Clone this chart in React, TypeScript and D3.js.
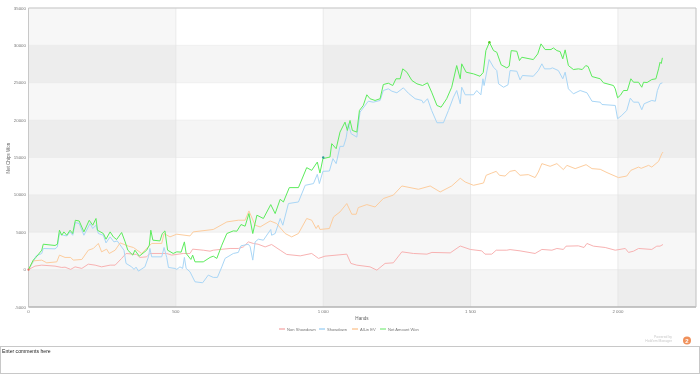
import React from "react";
import * as d3 from "d3";

type P = [number, number];

const xTicks = [0, 500, 1000, 1500, 2000];
const xTickLabels = ["0", "500", "1 000", "1 500", "2 000"];
const yTicks = [-5000, 0, 5000, 10000, 15000, 20000, 25000, 30000, 35000];
const xMax = 2265;
const title = { x: "Hands", y: "Net Chips Won" };
const comments = "Enter comments here";

const nonShowdown: P[] = [[0,0],[22,470],[45,600],[90,470],[113,290],[124,330],[143,30],[158,370],[181,160],[203,730],[226,600],[248,370],[277,600],[294,600],[316,1500],[331,2160],[367,2030],[378,1630],[401,1710],[412,2160],[469,2160],[486,1940],[525,2160],[548,2160],[557,2740],[593,2600],[616,2470],[627,2600],[650,2700],[684,2830],[712,2830],[729,3040],[746,3710],[763,3500],[779,3400],[803,3040],[825,3360],[854,2600],[876,2030],[922,1840],[961,2160],[984,1500],[1006,1800],[1080,2070],[1094,830],[1114,600],[1159,370],[1182,-70],[1210,830],[1238,910],[1267,2380],[1306,2160],[1352,2070],[1369,2300],[1431,2240],[1465,3160],[1499,2700],[1538,2510],[1549,2070],[1572,2070],[1587,2600],[1623,2600],[1634,2680],[1668,2510],[1719,2160],[1742,2700],[1776,2600],[1793,2830],[1815,2700],[1824,3140],[1866,3180],[1885,2960],[1895,3500],[1917,3140],[1957,2960],[1991,2600],[2025,2830],[2036,2300],[2053,2470],[2070,2830],[2115,2700],[2132,3140],[2143,3140],[2153,3360]];

const showdown: P[] = [[0,0],[16,1040],[25,1800],[45,2160],[50,2830],[90,2780],[98,3040],[105,4830],[118,4600],[130,4510],[141,5050],[150,4600],[159,6300],[172,6170],[188,4600],[209,6170],[218,5500],[229,5940],[237,4830],[254,4600],[263,3580],[277,4380],[290,3710],[301,3840],[324,2600],[331,830],[350,370],[358,30],[365,330],[373,-200],[395,370],[407,1710],[412,2830],[418,1710],[452,1710],[460,2960],[469,1630],[475,290],[497,160],[503,30],[514,370],[523,160],[529,1630],[535,160],[548,-290],[565,-1630],[591,-1760],[610,-730],[627,-1040],[641,-1040],[656,370],[667,1500],[695,2160],[712,2300],[721,3180],[746,3400],[752,3070],[761,1270],[769,3710],[780,4070],[797,3940],[822,5370],[825,4600],[837,4830],[854,6840],[863,5940],[882,8840],[916,9050],[939,11280],[967,11510],[980,12750],[987,11510],[999,13150],[1021,13190],[1033,14850],[1044,14180],[1057,16490],[1069,16490],[1078,17650],[1085,19520],[1095,18180],[1114,17730],[1125,21070],[1153,22530],[1170,22400],[1193,22630],[1204,23960],[1221,24190],[1233,23870],[1250,23660],[1272,24320],[1289,23600],[1312,22860],[1335,22630],[1340,22270],[1354,22860],[1368,21290],[1386,19650],[1408,19650],[1425,21290],[1442,23070],[1453,23960],[1465,22190],[1470,24400],[1482,23390],[1510,23390],[1521,23960],[1535,23390],[1542,25530],[1546,24630],[1563,28100],[1578,27070],[1589,26630],[1595,24860],[1612,24400],[1627,24720],[1634,26630],[1657,26540],[1668,25390],[1676,25970],[1713,25870],[1730,26630],[1742,27530],[1751,26860],[1770,26860],[1778,26990],[1798,26630],[1813,25530],[1821,26410],[1832,24190],[1849,23520],[1872,23960],[1895,23660],[1912,22530],[1940,22400],[1946,22090],[1991,21960],[1999,20190],[2013,20630],[2030,21290],[2042,22940],[2053,22400],[2070,22400],[2081,21390],[2089,22190],[2115,22630],[2127,22530],[2134,23960],[2143,24860],[2151,24990]];

const allInEv: P[] = [[0,0],[16,1170],[45,1270],[62,910],[96,1040],[105,1940],[124,1630],[143,1630],[152,1270],[181,1360],[203,2600],[220,2830],[237,3500],[248,2380],[265,2740],[274,2160],[294,2600],[311,3580],[339,3140],[356,2960],[384,2160],[418,3500],[452,3500],[460,4830],[480,4380],[503,4740],[548,4510],[559,5050],[627,5370],[673,6380],[712,6610],[735,6610],[748,7850],[769,5940],[786,5710],[820,6510],[842,6170],[871,4830],[893,4380],[916,4830],[944,6840],[961,6610],[976,5500],[983,5940],[989,5370],[1021,5500],[1035,7050],[1057,7720],[1080,8840],[1097,7410],[1112,7410],[1119,8300],[1148,8700],[1176,8380],[1204,9510],[1238,9970],[1267,11190],[1323,10750],[1363,11190],[1397,10390],[1436,11190],[1465,12220],[1482,11720],[1510,11280],[1544,11590],[1553,12620],[1572,12920],[1587,13150],[1598,12620],[1617,12520],[1634,13150],[1651,13280],[1668,12620],[1696,12710],[1719,12310],[1730,13060],[1742,14180],[1770,13820],[1793,14180],[1815,13380],[1827,13950],[1855,13510],[1892,14040],[1912,13510],[1940,13420],[1963,12980],[2002,12310],[2030,12520],[2044,13280],[2070,13720],[2079,13550],[2104,13950],[2115,13720],[2138,14480],[2149,15510],[2153,15730]];

const netAmountWon: P[] = [[0,0],[16,1270],[25,1630],[45,2600],[50,3400],[90,3230],[98,3400],[105,5270],[113,4600],[120,5050],[130,4600],[141,5270],[150,4830],[159,6600],[172,6510],[188,5050],[206,6600],[218,5940],[229,6840],[234,5270],[254,4830],[263,4070],[277,5050],[288,4380],[299,4030],[316,4970],[328,3710],[337,2600],[354,1940],[361,2600],[376,1800],[401,2600],[410,3270],[415,5270],[422,3940],[446,3840],[454,4830],[463,5180],[472,2600],[491,2160],[503,2380],[518,2340],[529,3710],[535,2160],[551,1360],[557,1940],[565,1040],[593,1040],[616,1630],[627,1800],[639,1500],[656,3270],[673,4830],[695,5180],[707,5140],[721,6030],[735,5810],[748,7500],[761,4830],[775,7280],[797,6840],[822,8700],[837,7500],[854,9410],[865,9050],[885,10970],[916,10970],[944,13640],[961,13280],[980,14390],[989,12920],[999,14850],[1023,15060],[1029,16850],[1044,16180],[1057,18400],[1074,19730],[1082,18620],[1091,19960],[1099,18620],[1114,18400],[1123,21290],[1136,21960],[1148,23390],[1159,22860],[1176,22630],[1193,22860],[1204,24760],[1221,24940],[1236,24630],[1247,25530],[1261,25530],[1270,26860],[1284,26410],[1301,25300],[1318,24860],[1337,24630],[1354,24990],[1368,23740],[1386,21960],[1400,21730],[1419,22860],[1436,24400],[1453,27300],[1465,25530],[1470,27530],[1485,26410],[1510,26190],[1532,25870],[1543,26370],[1552,29300],[1564,30410],[1578,29300],[1589,29080],[1604,27390],[1623,26990],[1631,27210],[1638,29300],[1657,29210],[1666,27970],[1674,28410],[1713,28100],[1728,28860],[1739,30200],[1753,29440],[1773,29440],[1781,29660],[1793,29300],[1804,29170],[1813,28200],[1821,29400],[1832,27300],[1849,26770],[1866,26860],[1879,26770],[1891,27300],[1899,27170],[1912,25830],[1940,25530],[1951,24990],[1985,24630],[1991,24190],[1999,22990],[2008,23300],[2019,23960],[2032,23960],[2044,25530],[2053,25070],[2070,25070],[2081,24400],[2087,25070],[2099,25030],[2115,25430],[2129,25530],[2138,26860],[2143,27740],[2147,27570],[2151,28330]];

const seriesNames = ["Non Showdown", "Showdown", "All-in EV", "Net Amount Won"];
const seriesData = [nonShowdown, showdown, allInEv, netAmountWon];
const seriesColors = ["#f8b2b2", "#a9d6f6", "#fdcd9e", "#5cec5c"];
const legendColors = ["#f28f8f", "#7cc0f0", "#fbb26e", "#62e862"];
const legendX = [279, 319, 352, 380];

const W = 700;
const H = 374;
const M = { left: 28.5, right: 696, top: 8, bottom: 307 };
const FONT = "'Liberation Sans', Arial, sans-serif";

export default function App() {
  const x = d3.scaleLinear().domain([0, xMax]).range([M.left, M.right]);
  const y = d3.scaleLinear().domain([-5000, 35000]).range([M.bottom, M.top]);
  const line = d3.line<P>().x((d) => x(d[0])).y((d) => y(d[1])).curve(d3.curveLinear);

  const xEdges = [...xTicks, xMax];
  const yEdges = yTicks;

  return (
    <svg
      width={W}
      height={H}
      viewBox={`0 0 ${W} ${H}`}
      style={{ position: "absolute", left: 0, top: 0, display: "block", background: "#fff", filter: "blur(0.3px)" }}
    >
      {yEdges.slice(0, -1).map((v, i) =>
        i % 2 === 0 ? (
          <rect key={v} x={M.left} width={M.right - M.left} y={y(yEdges[i + 1])} height={y(v) - y(yEdges[i + 1])} fill="#f5f5f5" />
        ) : null
      )}
      {xEdges.slice(0, -1).map((v, i) =>
        i % 2 === 0 ? (
          <rect key={v} x={x(v)} width={x(xEdges[i + 1]) - x(v)} y={M.top} height={M.bottom - M.top} fill="#000" fillOpacity={0.03} />
        ) : null
      )}
      {yTicks.map((v) => (
        <line key={v} x1={M.left} x2={M.right} y1={y(v)} y2={y(v)} stroke="#eaeaea" strokeWidth={0.6} />
      ))}
      {xTicks.slice(1).map((v) => (
        <line key={v} x1={x(v)} x2={x(v)} y1={M.top} y2={M.bottom} stroke="#e2e2e2" strokeWidth={0.7} />
      ))}

      <line x1={M.left} x2={M.right} y1={M.top} y2={M.top} stroke="#c8c8c8" strokeWidth={1} />
      <line x1={M.left} x2={M.left} y1={M.top} y2={M.bottom} stroke="#c8c8c8" strokeWidth={1} />
      <line x1={M.left} x2={M.right} y1={M.bottom} y2={M.bottom} stroke="#b4b4b4" strokeWidth={1.4} />
      <line x1={M.right} x2={M.right} y1={M.top} y2={M.bottom} stroke="#c0c0c0" strokeWidth={1} />

      {seriesData.map((d, i) => (
        <path key={seriesNames[i]} d={line(d) ?? ""} fill="none" stroke={seriesColors[i]} strokeWidth={1} strokeLinejoin="round" />
      ))}

      <circle cx={x(0)} cy={y(0)} r={1.1} fill="#e06a5a" />
      <circle cx={x(1000)} cy={y(15000)} r={1.2} fill="#2f9a9a" />
      <circle cx={x(1564)} cy={y(30410)} r={1.2} fill="#55c820" />

      <g fontFamily={FONT} fontSize={4.4} fill="#777">
        {yTicks.map((v) => (
          <text key={v} x={26} y={y(v) + 1.5} textAnchor="end">{v}</text>
        ))}
        {xTicks.map((v, i) => (
          <text key={v} x={x(v)} y={313} textAnchor="middle">{xTickLabels[i]}</text>
        ))}
      </g>
      <text x={362} y={320} textAnchor="middle" fontFamily={FONT} fontSize={4.6} fill="#666">{title.x}</text>
      <text transform="translate(10 158) rotate(-90)" textAnchor="middle" fontFamily={FONT} fontSize={4.6} fill="#666">{title.y}</text>

      {seriesNames.map((n, i) => (
        <g key={n}>
          <line x1={legendX[i]} x2={legendX[i] + 6} y1={329} y2={329} stroke={legendColors[i]} strokeWidth={1} />
          <text x={legendX[i] + 8} y={330.5} fontFamily={FONT} fontSize={4.1} fill="#777">{n}</text>
        </g>
      ))}

      <g fontFamily={FONT} fontSize={3.4} fill="#c8c8c8" textAnchor="end">
        <text x={672} y={338}>Powered by</text>
        <text x={672} y={342}>Hold'em Manager</text>
      </g>
      <circle cx={687} cy={340.5} r={4} fill="#f0905a" />
      <text x={687} y={342.6} textAnchor="middle" fontFamily={FONT} fontSize={6} fontWeight="bold" fill="#fff">2</text>

      <rect x={0.5} y={346.5} width={699} height={27} fill="#fff" stroke="#c8c8c8" strokeWidth={1} />
      <text x={2} y={352.5} fontFamily={FONT} fontSize={5.1} fill="#222">{comments}</text>
    </svg>
  );
}
